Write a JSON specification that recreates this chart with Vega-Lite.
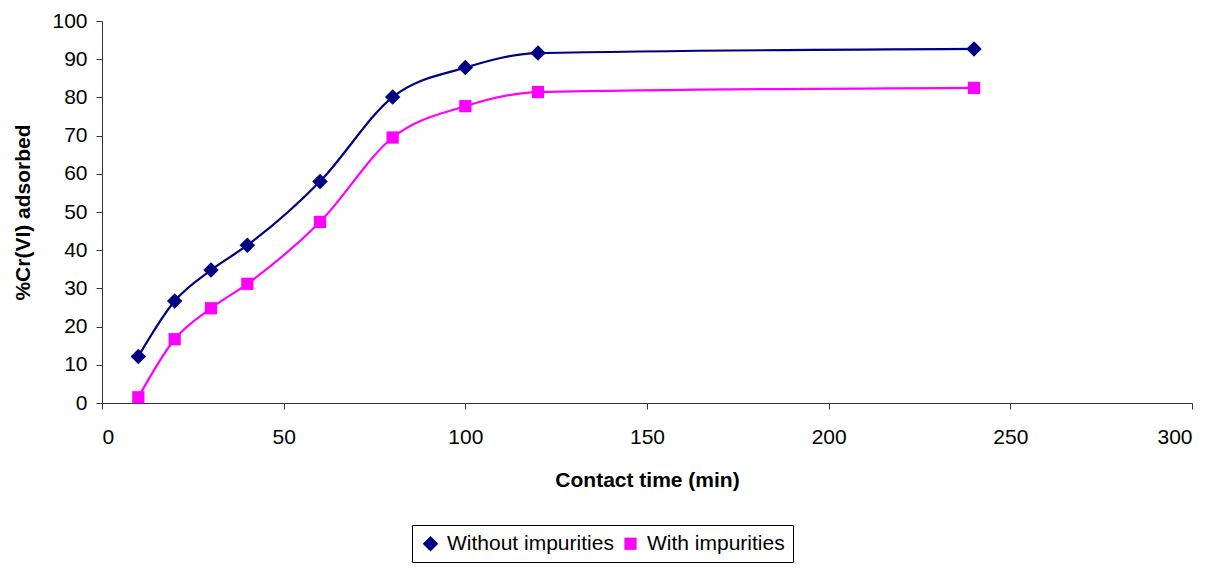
{
  "$schema": "https://vega.github.io/schema/vega-lite/v6.json",
  "autosize": {"type": "none"},
  "padding": {"left": 102, "top": 21, "right": 35, "bottom": 166},
  "width": 1090,
  "height": 382,
  "background": "white",
  "config": {
    "view": {"stroke": null},
    "font": "Liberation Sans",
    "axis": {
      "grid": false,
      "domainColor": "#333333",
      "tickColor": "#333333",
      "tickSize": 6,
      "labelFont": "Liberation Sans",
      "labelFontSize": 21,
      "labelColor": "#000000",
      "titleFont": "Liberation Sans",
      "titleFontSize": 21,
      "titleFontWeight": "bold",
      "titleColor": "#000000"
    }
  },
  "data": {
    "values": [
      {"time": 10, "pct": 12.2, "series": "Without impurities"},
      {"time": 20, "pct": 26.7, "series": "Without impurities"},
      {"time": 30, "pct": 34.8, "series": "Without impurities"},
      {"time": 40, "pct": 41.3, "series": "Without impurities"},
      {"time": 60, "pct": 58.0, "series": "Without impurities"},
      {"time": 80, "pct": 80.1, "series": "Without impurities"},
      {"time": 100, "pct": 87.8, "series": "Without impurities"},
      {"time": 120, "pct": 91.6, "series": "Without impurities"},
      {"time": 240, "pct": 92.7, "series": "Without impurities"},
      {"time": 10, "pct": 1.5, "series": "With impurities"},
      {"time": 20, "pct": 16.7, "series": "With impurities"},
      {"time": 30, "pct": 24.8, "series": "With impurities"},
      {"time": 40, "pct": 31.2, "series": "With impurities"},
      {"time": 60, "pct": 47.4, "series": "With impurities"},
      {"time": 80, "pct": 69.5, "series": "With impurities"},
      {"time": 100, "pct": 77.7, "series": "With impurities"},
      {"time": 120, "pct": 81.4, "series": "With impurities"},
      {"time": 240, "pct": 82.5, "series": "With impurities"}
    ]
  },
  "encoding": {
    "x": {
      "field": "time",
      "type": "quantitative",
      "scale": {"domain": [0, 300], "nice": false},
      "axis": {
        "title": "Contact time (min)",
        "values": [0, 50, 100, 150, 200, 250, 300],
        "labelPadding": 17,
        "titlePadding": 22
      }
    },
    "y": {
      "field": "pct",
      "type": "quantitative",
      "scale": {"domain": [0, 100], "nice": false},
      "axis": {
        "title": "%Cr(VI) adsorbed",
        "values": [0, 10, 20, 30, 40, 50, 60, 70, 80, 90, 100],
        "labelPadding": 9,
        "titlePadding": 18
      }
    },
    "color": {
      "field": "series",
      "type": "nominal",
      "scale": {
        "domain": ["Without impurities", "With impurities"],
        "range": ["#000080", "#FF00FF"]
      },
      "legend": {
        "title": null,
        "orient": "none",
        "direction": "horizontal",
        "legendX": 310,
        "legendY": 504,
        "strokeColor": "#000000",
        "padding": 8,
        "labelFont": "Liberation Sans",
        "labelFontSize": 21,
        "labelColor": "#000000",
        "labelLimit": 400,
        "symbolSize": 3600,
        "symbolStrokeWidth": 0,
        "symbolOffset": 0,
        "labelOffset": 6,
        "columnPadding": 6,
        "encode": {
          "symbols": {
            "update": {
              "shape": [
                {"test": "datum.label === 'With impurities'", "value": "M-1,-0.035 L-0.19,-0.035 L-0.19,-0.19 L0.19,-0.19 L0.19,-0.035 L1,-0.035 L1,0.035 L0.19,0.035 L0.19,0.19 L-0.19,0.19 L-0.19,0.035 L-1,0.035 Z"},
                {"value": "M-1,-0.035 L-0.18,-0.035 L0,-0.24 L0.18,-0.035 L1,-0.035 L1,0.035 L0.18,0.035 L0,0.24 L-0.18,0.035 L-1,0.035 Z"}
              ],
              "opacity": {"value": 1},
              "fillOpacity": {"value": 1}
            }
          }
        }
      }
    }
  },
  "layer": [
    {
      "mark": {"type": "line", "interpolate": "monotone", "strokeWidth": 2.2}
    },
    {
      "mark": {"type": "point", "filled": true, "opacity": 1},
      "encoding": {
        "shape": {
          "field": "series",
          "type": "nominal",
          "scale": {
            "domain": ["Without impurities", "With impurities"],
            "range": ["diamond", "square"]
          },
          "legend": null
        },
        "size": {
          "field": "series",
          "type": "ordinal",
          "scale": {
            "domain": ["Without impurities", "With impurities"],
            "range": [240, 150]
          },
          "legend": null
        }
      }
    }
  ]
}
